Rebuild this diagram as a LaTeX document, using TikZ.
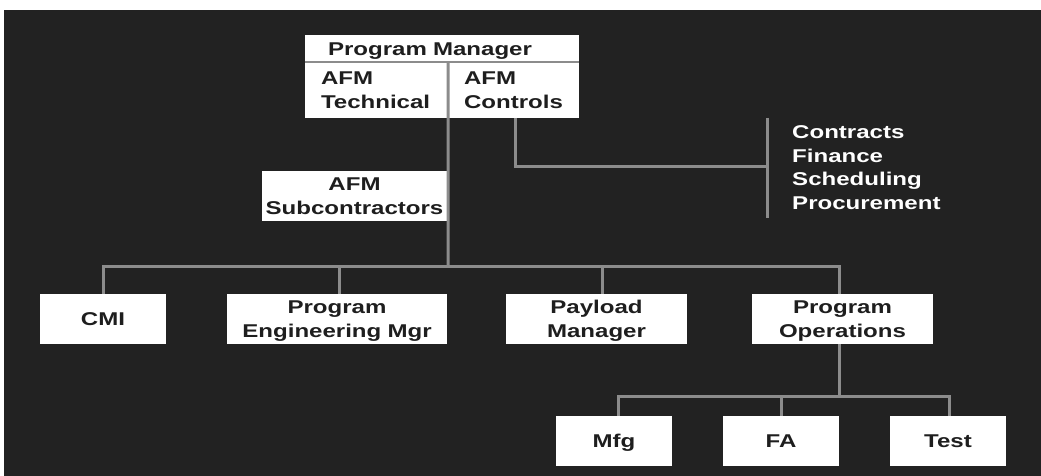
\documentclass[tikz,border=0pt]{standalone}
\usepackage{fontspec}
\newfontfamily\orgfont[FakeStretch=1.3]{Liberation Sans}
\definecolor{slate}{HTML}{222222}
\definecolor{wiregrey}{HTML}{8C8C8C}
\definecolor{inkdark}{HTML}{1E1E1E}

\begin{document}
\begin{tikzpicture}[x=1pt, y=-1pt,
  every node/.style={font=\orgfont\bfseries\fontsize{18.5}{23.5}\selectfont, inner sep=0pt},
  unit/.style={rectangle, fill=white, text=inkdark, align=center, text width=#1, minimum width=#1, minimum height=50pt, text height=13.2pt, text depth=0pt},
  twoline/.style={text depth=23.5pt},
  wire/.style={draw=wiregrey, line width=3pt}]

\useasboundingbox (0,0) rectangle (1041,476);
\fill[white] (0,0) rectangle (1041,476);
\fill[slate] (4,10) rectangle (1041,476);

% top box: manager with his two deputies
\node[unit=228pt, minimum width=274pt, minimum height=27pt, align=left] (pm) at (442,48.5) {Program Manager};
\node[unit=111pt, twoline, minimum width=143pt, minimum height=56pt, align=left] (tech) at (376.5,90) {AFM\\Technical};
\node[unit=99pt, twoline, minimum width=131pt, minimum height=56pt, align=left] (ctrl) at (513.5,90) {AFM\\Controls};
\node[unit=185pt, twoline] (sub) at (354.5,196) {AFM\\Subcontractors};

% staff functions under controls
\node[anchor=base west, text width=150pt, align=left, text=white, text height=13.2pt, text depth=70.5pt] (staff) at (792,139) {Contracts\\Finance\\Scheduling\\Procurement};

% second level
\node[unit=126pt] (cmi) at (103,319) {CMI};
\node[unit=220pt, twoline] (eng) at (337,319) {Program\\Engineering Mgr};
\node[unit=181pt, twoline] (pay) at (596.5,319) {Payload\\Manager};
\node[unit=181pt, twoline] (ops) at (842.5,319) {Program\\Operations};

% under operations
\node[unit=116pt] (mfg) at (614,441) {Mfg};
\node[unit=116pt] (fa) at (781,441) {FA};
\node[unit=116pt] (test) at (948,441) {Test};

\coordinate (bus) at (448,266);
\coordinate (staffjoin) at (767,166);
\coordinate (bracetop) at (767,118);
\coordinate (bracebot) at (767,218);
\coordinate (opsbus) at (839,396);

\draw[wire, line width=2pt] (pm.south west) -- (pm.south east);
\draw[wire] (tech.north east) -- (bus);
\draw[wire] (cmi.north) |- (bus) -| ([xshift=-3.5pt]ops.north);
\draw[wire] ([xshift=2pt]eng.north) -- ([xshift=2pt]eng.north |- bus);
\draw[wire] ([xshift=5.5pt]pay.north) -- ([xshift=5.5pt]pay.north |- bus);

\draw[wire] ([xshift=1.5pt]ctrl.south) |- (staffjoin);
\draw[wire] (bracetop) -- (bracebot);

\draw[wire] (ops.south -| opsbus) -- (opsbus);
\draw[wire] ([xshift=4pt]mfg.north) |- (opsbus) -| ([xshift=1pt]test.north);
\draw[wire] (fa.north) -- (fa.north |- opsbus);

\end{tikzpicture}
\end{document}
